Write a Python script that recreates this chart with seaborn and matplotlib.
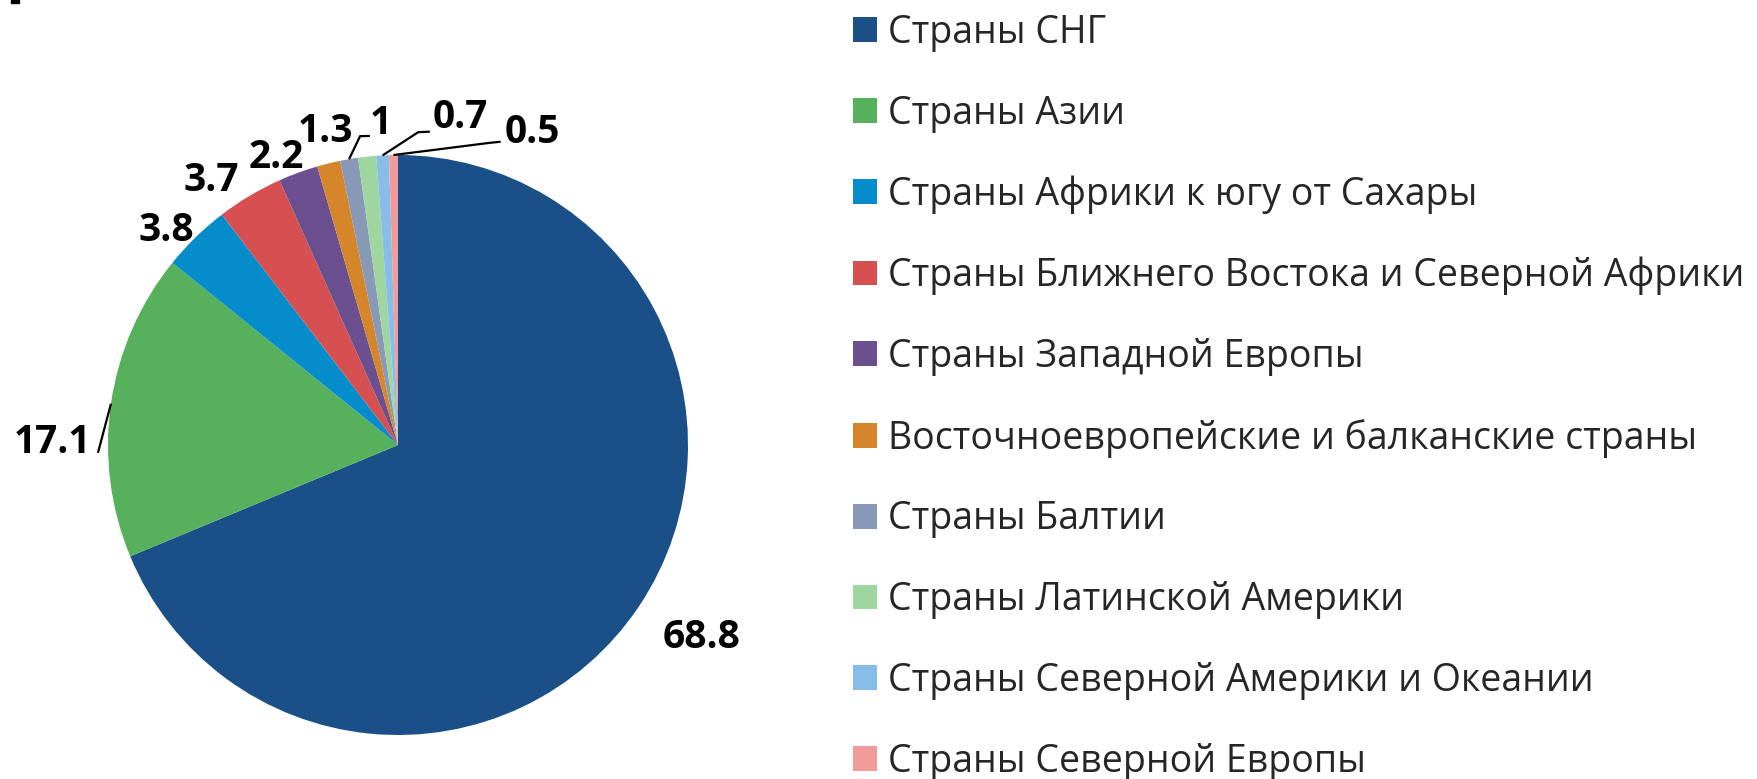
import numpy as np
import matplotlib
matplotlib.use("Agg")
import matplotlib.pyplot as plt
import seaborn as sns
from matplotlib.patches import Rectangle

# ---- data ----
categories = [
    "Страны СНГ",
    "Страны Азии",
    "Страны Африки к югу от Сахары",
    "Страны Ближнего Востока и Северной Африки",
    "Страны Западной Европы",
    "Восточноевропейские и балканские страны",
    "Страны Балтии",
    "Страны Латинской Америки",
    "Страны Северной Америки и Океании",
    "Страны Северной Европы",
]
values = [68.8, 17.1, 3.8, 3.7, 2.2, 1.3, 1.0, 1.0, 0.7, 0.5]
value_labels = ["68.8", "17.1", "3.8", "3.7", "2.2", "1.3", "1", "", "0.7", "0.5"]
colors = ["#1a5087", "#57b05c", "#058dcb", "#d65052", "#6b4f8f",
          "#d5852a", "#8899b8", "#9fd59f", "#89bde9", "#f29b9b"]

# ---- style ----
sns.set_theme(style="white")
plt.rcParams["font.family"] = ["Open Sans", "DejaVu Sans"]

W, H = 1758, 779
fig = plt.figure(figsize=(W / 100, H / 100), dpi=100)
fig.patch.set_facecolor("white")

R_PX = 290.0
CX, CY = 398.0, 445.0
ax = fig.add_axes([0, 0, 1, 1])

wedges, _ = ax.pie(values, colors=colors, startangle=90, counterclock=False,
                   radius=1.0, center=(0, 0), wedgeprops=dict(linewidth=0))
ax.set_xlim(-CX / R_PX, (W - CX) / R_PX)
ax.set_ylim(-(H - CY) / R_PX, CY / R_PX)
ax.set_aspect("equal")
ax.axis("off")

def polar(r, deg):
    a = np.deg2rad(deg)
    return r * np.cos(a), r * np.sin(a)

# label placement: (distance, angle offset from wedge mid-angle)
label_pos = {
    0: (1.24, 1.4),
    1: (1.19, 7.8),
    2: (1.09, 3.0),
    3: (1.117, 4.4),
    4: (1.076, 2.8),
    5: (1.11, -0.8),
    6: (1.11, -6.7),
    8: (1.149, -13.8),
    9: (1.174, -24.1),
}
# leader lines: polar points after the wedge edge point
leaders = {
    1: [(1.035, 181.5)],
    6: [(1.073, 97.0), (1.07, 95.2)],
    8: [(1.081, 86.3), (1.086, 84.2)],
    9: [(1.089, 73.1), (1.104, 71.3)],
}

for i, w in enumerate(wedges):
    mid = 0.5 * (w.theta1 + w.theta2)
    if i in label_pos and value_labels[i]:
        r, d = label_pos[i]
        x, y = polar(r, mid + d)
        ax.text(x, y, value_labels[i], ha="center", va="center",
                fontsize=28, fontweight="bold", color="black")
    if i in leaders:
        pts = [polar(1.0, mid)] + [polar(rr, aa) for rr, aa in leaders[i]]
        xs, ys = zip(*pts)
        ax.plot(xs, ys, color="black", lw=1.6, solid_capstyle="butt")

leg = fig.legend(wedges, categories, loc="upper left",
                 bbox_to_anchor=(853 / W, 1 - 14 / H),
                 frameon=False, fontsize=27, handlelength=0.64,
                 handleheight=0.64, handletextpad=0.3, labelspacing=1.14,
                 borderpad=0, borderaxespad=0)

fig.add_artist(Rectangle((11 / W, 1 - 2.5 / H), 8 / W, 2.5 / H,
                         transform=fig.transFigure, color="black"))

fig.savefig("out.png", dpi=100, facecolor="white")
